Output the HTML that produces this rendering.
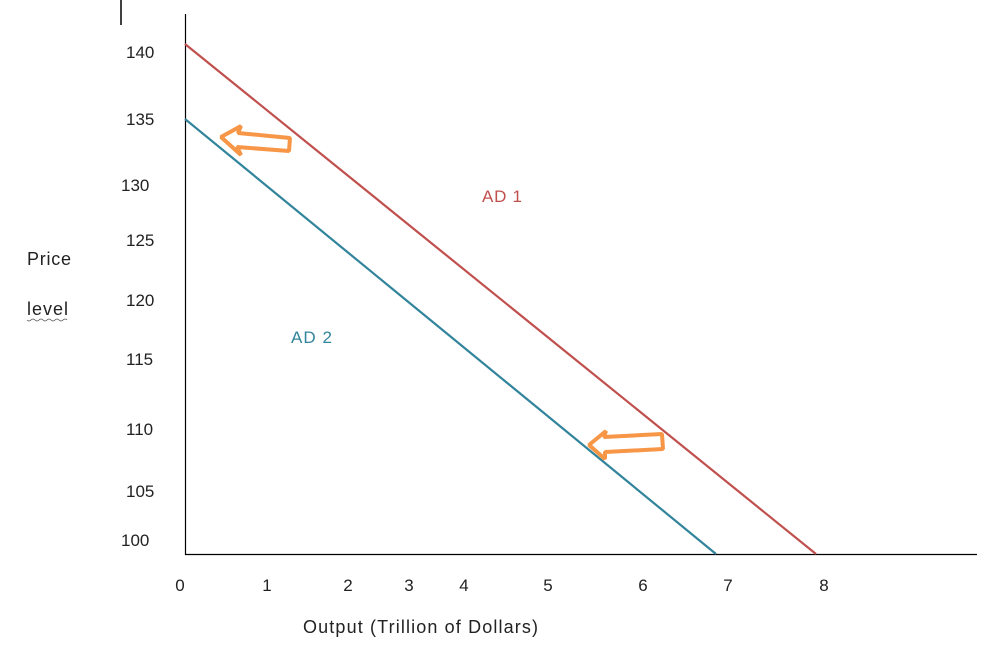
<!DOCTYPE html>
<html><head><style>body{margin:0;background:#fff}</style></head><body>
<svg width="1005" height="651" xmlns="http://www.w3.org/2000/svg" style="font-family:'Liberation Sans',sans-serif;font-size:17px;fill:#222">
<line x1="121" y1="0" x2="121" y2="25" stroke="#000" stroke-width="1.5"/>
<line x1="185.5" y1="14" x2="185.5" y2="555" stroke="#000" stroke-width="1.2"/>
<line x1="185" y1="554.5" x2="977" y2="554.5" stroke="#000" stroke-width="1.2"/>
<line x1="185" y1="44" x2="816" y2="554" stroke="#c0504d" stroke-width="2.2"/>
<line x1="185" y1="119" x2="716" y2="554" stroke="#31849b" stroke-width="2.2"/>
<polygon points="221,137 241,126 238,133 290,138 289,151 237,147 241,155" fill="none" stroke="#f79646" stroke-width="4" stroke-linejoin="bevel"/>
<polygon points="589,445 606,431 604,437 662,434 663,449 605,452 605,459" fill="none" stroke="#f79646" stroke-width="4" stroke-linejoin="bevel"/>
<g text-anchor="start">
<text x="126" y="58">140</text><text x="126" y="125">135</text><text x="121" y="191">130</text>
<text x="126" y="246">125</text><text x="126" y="306">120</text><text x="126" y="365">115</text>
<text x="126" y="435">110</text><text x="126" y="497">105</text><text x="121" y="546">100</text>
</g>
<g text-anchor="middle">
<text x="180" y="591">0</text><text x="267" y="591">1</text><text x="348" y="591">2</text><text x="409" y="591">3</text>
<text x="464" y="591">4</text><text x="548" y="591">5</text><text x="643" y="591">6</text><text x="728" y="591">7</text><text x="824" y="591">8</text>
</g>
<text x="27" y="265" textLength="44" font-size="18">Price</text><text x="27" y="315" textLength="41" font-size="18">level</text>
<path d="M27 320 q2 2 4 0 t4 0 t4 0 t4 0 t4 0 t4 0 t4 0 t4 0 t4 0 t4 0" stroke="#555" fill="none" stroke-width="0.8"/>
<text x="482" y="202" style="fill:#c0504d" textLength="40">AD 1</text>
<text x="291" y="343" style="fill:#31849b" textLength="41">AD 2</text>
<text x="303" y="633" font-size="18" textLength="235">Output (Trillion of Dollars)</text>
</svg>
</body></html>
